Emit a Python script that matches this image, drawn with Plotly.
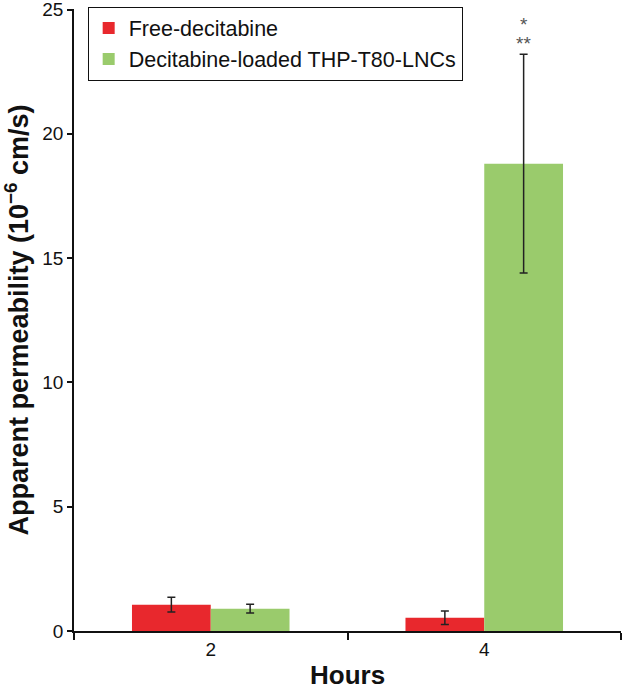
import plotly.graph_objects as go

hours = ["2", "4"]
free_vals = [1.06, 0.53]
free_err = [0.30, 0.27]
lnc_vals = [0.90, 18.8]
lnc_err = [0.18, 4.4]
series_names = ["Free-decitabine", "Decitabine-loaded THP-T80-LNCs"]
yticks = [0, 5, 10, 15, 20, 25]
sig_marks = ["*", "**"]
x_title = "Hours"
y_title = "Apparent permeability (10<sup>−6</sup> cm/s)"

FONT = "Liberation Sans, Arial, sans-serif"

fig = go.Figure()
fig.add_trace(go.Bar(
    x=hours, y=free_vals, name=series_names[0],
    marker=dict(color="#E8282D", line=dict(width=0)),
    error_y=dict(type="data", array=free_err, visible=True, color="#222222", thickness=1.5, width=4),
))
fig.add_trace(go.Bar(
    x=hours, y=lnc_vals, name=series_names[1],
    marker=dict(color="#9ACB6C", line=dict(width=0)),
    error_y=dict(type="data", array=lnc_err, visible=True, color="#222222", thickness=1.5, width=4),
))

fig.add_annotation(x=1.144, y=24.4, xref="x", yref="y", text=sig_marks[0], showarrow=False,
                   font=dict(size=19, color="#555555", family=FONT), yanchor="middle")
fig.add_annotation(x=1.144, y=23.62, xref="x", yref="y", text=sig_marks[1], showarrow=False,
                   font=dict(size=19, color="#555555", family=FONT), yanchor="middle")

fig.add_annotation(x=0.5, y=0, xref="paper", yref="paper", text="<b>" + x_title + "</b>",
                   showarrow=False, yanchor="middle", xanchor="center", yshift=-44,
                   font=dict(size=26, color="#111111", family=FONT))

fig.update_layout(
    width=623, height=686,
    margin=dict(l=74, r=2, t=9, b=55, autoexpand=False),
    paper_bgcolor="white", plot_bgcolor="white",
    barmode="group", bargap=0.424, bargroupgap=0,
    font=dict(family=FONT, size=19, color="#111111"),
    showlegend=True,
    legend=dict(x=0.025, y=1.004, xanchor="left", yanchor="top",
                bordercolor="#111111", borderwidth=1, bgcolor="white",
                font=dict(size=21.5, color="#111111"), tracegroupgap=0,
                itemsizing="constant"),
    xaxis=dict(
        type="category", range=[-0.5, 1.5], automargin=False,
        showline=True, linecolor="#111111", linewidth=1.5,
        ticks="outside", tickson="boundaries", ticklen=7, tickwidth=1.5, tickcolor="#111111",
        showgrid=False, zeroline=False,
        tickfont=dict(size=19),
    ),
    yaxis=dict(
        range=[0, 25.02], tickvals=yticks, automargin=False,
        ticklabeloverflow="allow",
        showline=True, linecolor="#111111", linewidth=1.5,
        ticks="outside", ticklen=5, tickwidth=1.5, tickcolor="#111111",
        showgrid=False, zeroline=False,
        tickfont=dict(size=19),
        title=dict(text="<b>" + y_title + "</b>", font=dict(size=27), standoff=7),
    ),
)

fig.write_html("out.html", config={"displayModeBar": False},
               post_script="document.body.style.margin='0';document.body.style.padding='0';")
